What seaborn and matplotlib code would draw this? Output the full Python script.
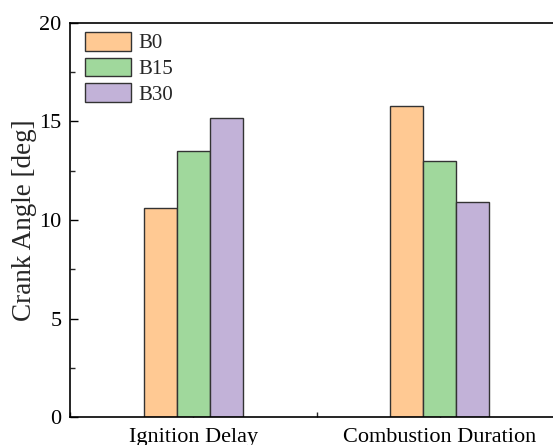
import pandas as pd
import matplotlib.pyplot as plt
import seaborn as sns
from matplotlib.ticker import MultipleLocator

categories = ["Ignition Delay", "Combustion Duration"]
fuels = ["B0", "B15", "B30"]
b0 = [10.6, 15.8]
b15 = [13.5, 13.0]
b30 = [15.2, 10.9]

colors = ["#FFC993", "#A0D89C", "#C2B2D8"]

rows = []
for fuel, vals in zip(fuels, [b0, b15, b30]):
    for cat, v in zip(categories, vals):
        rows.append({"category": cat, "fuel": fuel, "angle": v})
df = pd.DataFrame(rows)

sns.set_style("ticks")
plt.rcParams["font.family"] = ["Liberation Serif", "DejaVu Serif"]

fig = plt.figure(figsize=(5.53, 4.45), dpi=100)
ax = fig.add_axes([70 / 553, 28 / 445, 493 / 553, 394 / 445])

sns.barplot(data=df, x="category", y="angle", hue="fuel", order=categories,
            hue_order=fuels, palette=colors, width=0.4, edgecolor="#333333",
            linewidth=1.0, saturation=1, ax=ax)

ax.set_xlim(-0.5, 1.5)
ax.set_ylim(0, 20)
ax.yaxis.set_major_locator(MultipleLocator(5))
ax.yaxis.set_minor_locator(MultipleLocator(2.5))
ax.xaxis.set_minor_locator(MultipleLocator(0.5))
ax.tick_params(which="major", direction="in", length=6, width=1, labelsize=16,
               colors="black")
ax.tick_params(axis="y", which="major", pad=6)
ax.tick_params(axis="x", which="major", pad=8)
ax.tick_params(which="minor", direction="in", length=3.5, width=1)
ax.set_xlabel("")
ax.set_ylabel("Crank Angle [deg]", fontsize=19.5, labelpad=2)
for s in ax.spines.values():
    s.set_linewidth(1.2)
    s.set_color("black")

ax.legend(loc="upper left", bbox_to_anchor=(15 / 493, 1 - 9 / 394),
          frameon=False, fontsize=15, borderpad=0, borderaxespad=0,
          handlelength=2.2, handleheight=1.0, labelspacing=0.2,
          handletextpad=0.35)

fig.savefig("out.png", dpi=100)
